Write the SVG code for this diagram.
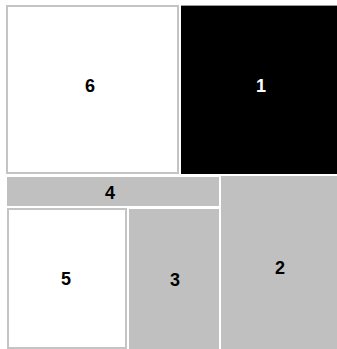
<svg xmlns="http://www.w3.org/2000/svg" width="337" height="349" viewBox="0 0 337 349">
<style>
.w{fill:#ffffff;stroke:#c4c4c4;stroke-width:2}
.g{fill:#c0c0c0}
.k{fill:#000000}
.t{font-family:"Liberation Sans",Arial,sans-serif;font-weight:bold;font-size:18px;text-anchor:middle}
</style>
<rect x="0" y="0" width="337" height="349" fill="#ffffff"/>
<g id="connectors"/>
<g id="node6">
<rect class="w" x="7" y="6" width="171" height="167"/>
<text class="t" x="90" y="92" fill="#000">6</text>
</g>
<g id="node1">
<rect class="k" x="181" y="6" width="156" height="168"/>
<line x1="181" y1="5.5" x2="337" y2="5.5" stroke="#9a9a9a" stroke-width="1"/>
<text class="t" x="261" y="92" fill="#fff">1</text>
</g>
<g id="node4">
<rect class="g" x="7" y="177" width="212" height="29"/>
<text class="t" x="110" y="199" fill="#000">4</text>
</g>
<g id="node2">
<rect class="g" x="221" y="176" width="116" height="173"/>
<text class="t" x="280" y="274" fill="#000">2</text>
</g>
<g id="node5">
<rect class="w" x="8" y="209" width="118" height="139"/>
<text class="t" x="66" y="285" fill="#000">5</text>
</g>
<g id="node3">
<rect class="g" x="129" y="209" width="90" height="140"/>
<text class="t" x="175" y="286" fill="#000">3</text>
</g>
</svg>
